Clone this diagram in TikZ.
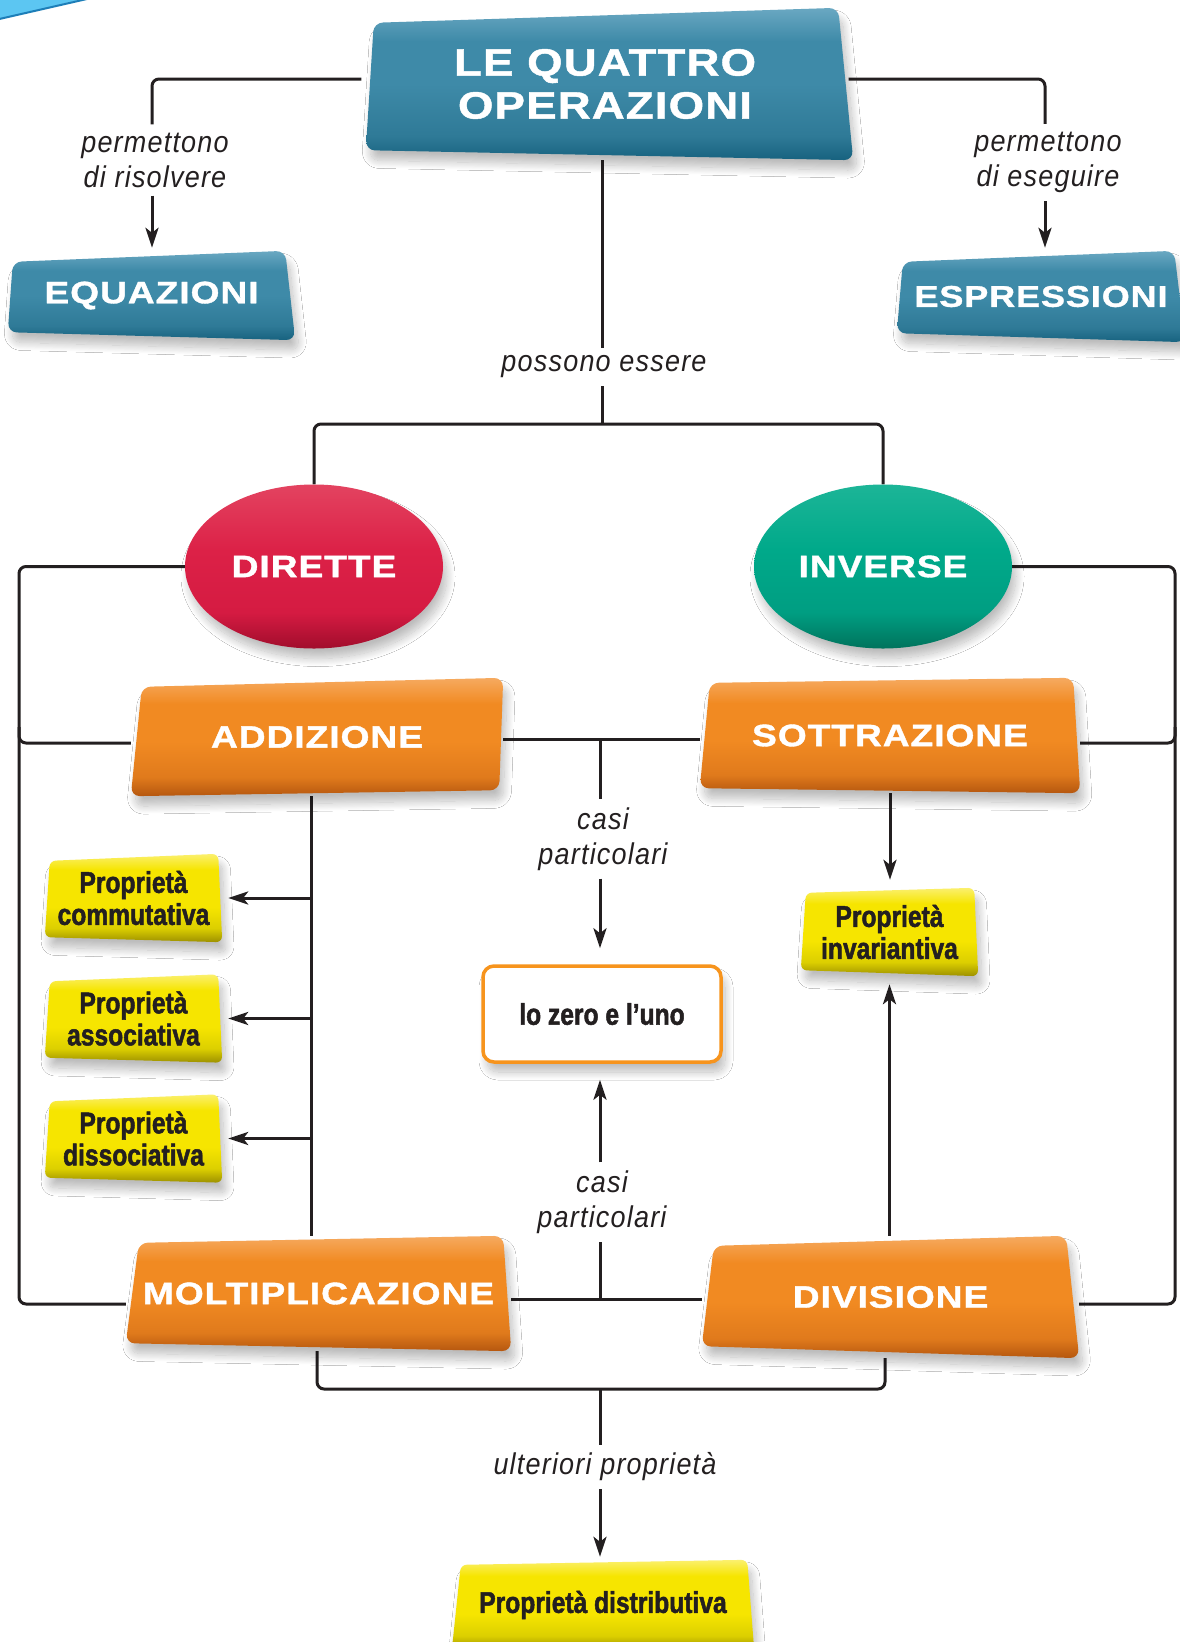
\documentclass[tikz,border=0pt]{standalone}
\usepackage{fontspec}
\setmainfont{Liberation Sans}
\newfontfamily\boxfont{Liberation Sans}[FakeStretch=1.2,LetterSpace=3,FakeBold=1.2]
\newfontfamily\condfont{Liberation Sans}[FakeStretch=0.82,FakeBold=1.6]
\newfontfamily\labfont{Liberation Sans}[FakeStretch=0.9,LetterSpace=4]
\usetikzlibrary{shapes.geometric,arrows.meta,shadows.blur,calc}

% palette
\definecolor{ink}{HTML}{231F20}
\definecolor{orline}{HTML}{F7941D}
\definecolor{skyb}{HTML}{5CC6F2}
\definecolor{skyd}{HTML}{1D7EB8}
\definecolor{tb0}{HTML}{17627F}\definecolor{tb1}{HTML}{2F7A97}
\definecolor{tb2}{HTML}{3E8AA8}\definecolor{tb3}{HTML}{6AA8C2}
\definecolor{or0}{HTML}{B5570F}\definecolor{or1}{HTML}{E07A1C}
\definecolor{or2}{HTML}{F18A22}\definecolor{or3}{HTML}{F6AA60}
\definecolor{yl0}{HTML}{9C9000}\definecolor{yl1}{HTML}{DCCF00}
\definecolor{yl2}{HTML}{F6E500}\definecolor{yl3}{HTML}{FBF06E}
\definecolor{rd0}{HTML}{A10D2C}\definecolor{rd1}{HTML}{D51B42}
\definecolor{rd2}{HTML}{DC2147}\definecolor{rd3}{HTML}{E34360}
\definecolor{gr0}{HTML}{00735C}\definecolor{gr1}{HTML}{009E82}
\definecolor{gr2}{HTML}{00A98A}\definecolor{gr3}{HTML}{1CB597}

% vertical shadings (visible band 25bp..75bp)
\pgfdeclareverticalshading{tealsh}{100bp}{color(0bp)=(tb0); color(25bp)=(tb0); color(33bp)=(tb1); color(50bp)=(tb2); color(64bp)=(tb2); color(75bp)=(tb3); color(100bp)=(tb3)}
\pgfdeclareverticalshading{orsh}{100bp}{color(0bp)=(or0); color(25bp)=(or0); color(33bp)=(or1); color(48bp)=(or2); color(64bp)=(or2); color(75bp)=(or3); color(100bp)=(or3)}
\pgfdeclareverticalshading{ylsh}{100bp}{color(0bp)=(yl0); color(25bp)=(yl0); color(33bp)=(yl1); color(45bp)=(yl2); color(66bp)=(yl2); color(75bp)=(yl3); color(100bp)=(yl3)}
\pgfdeclareverticalshading{rdsh}{100bp}{color(0bp)=(rd0); color(25bp)=(rd0); color(36bp)=(rd1); color(55bp)=(rd2); color(75bp)=(rd3); color(100bp)=(rd3)}
\pgfdeclareverticalshading{grsh}{100bp}{color(0bp)=(gr0); color(25bp)=(gr0); color(36bp)=(gr1); color(55bp)=(gr2); color(75bp)=(gr3); color(100bp)=(gr3)}

\pgfdeclarelayer{wires}
\pgfdeclarelayer{bodies}
\pgfsetlayers{wires,bodies,main}

% a shaded quadrilateral round a node, corners moved by the four offsets
\newcommand\skewbox[6]{%
  \path[#2] ([shift={#3}]#1.north west) -- ([shift={#4}]#1.north east)
    -- ([shift={#5}]#1.south east) -- ([shift={#6}]#1.south west) -- cycle;}

\begin{document}
\begin{tikzpicture}[x=1pt,y=-1pt,
  shad/.style={blur shadow={shadow xshift=4pt,shadow yshift=-10pt,shadow blur radius=8pt,shadow blur steps=16,shadow opacity=26}},
  tealbody/.style={shade,shading=tealsh,rounded corners=9pt,shad},
  orbody/.style={shade,shading=orsh,rounded corners=9pt,shad},
  ylbody/.style={shade,shading=ylsh,rounded corners=6pt,shad},
  boxlbl/.style={inner sep=0pt,align=center,text=white,font=\boxfont\bfseries\fontsize{31}{36}\selectfont},
  ylbl/.style={inner sep=0pt,align=center,text=ink,font=\condfont\bfseries\fontsize{30}{32}\selectfont},
  lab/.style={inner sep=8pt,align=center,text=ink,font=\labfont\itshape\fontsize{30}{35}\selectfont},
  conn/.style={draw=ink,line width=3pt,rounded corners=7pt},
  arr/.style={conn,-{Stealth[length=20pt,width=13pt,inset=5pt]}}]
\useasboundingbox (0,0) rectangle (1179,1642);

% ---------- nodes ----------
\node[boxlbl,minimum width=487pt,minimum height=152pt,
      font=\boxfont\bfseries\fontsize{38}{43}\selectfont] (tit) at (605,84) {LE QUATTRO\\OPERAZIONI};
\node[boxlbl,minimum width=287pt,minimum height=89pt] (eq) at (151.5,295.5) {EQUAZIONI};
\node[boxlbl,minimum width=288pt,minimum height=91pt,
      font=\boxfont\bfseries\fontsize{30}{36}\selectfont] (esp) at (1041,296.5) {ESPRESSIONI};
\node[lab] (lres) at (155,160) {permettono\\di risolvere};
\node[lab] (lese) at (1048,162.5) {permettono\\di eseguire};
\node[lab] (poss) at (604,367) {possono essere};

\node[boxlbl,ellipse,minimum width=258pt,minimum height=164pt,shade,shading=rdsh,shad] (dir) at (314,566.5) {DIRETTE};
\node[boxlbl,ellipse,minimum width=258pt,minimum height=164pt,shade,shading=grsh,shad] (inv) at (883,566.5) {INVERSE};

\node[boxlbl,minimum width=372pt,minimum height=118pt] (add) at (317,737) {ADDIZIONE};
\node[boxlbl,minimum width=380pt,minimum height=115pt] (sot) at (890,735.5) {SOTTRAZIONE};
\node[boxlbl,minimum width=385pt,minimum height=115pt] (mol) at (318.5,1293.5) {MOLTIPLICAZIONE};
\node[boxlbl,minimum width=377pt,minimum height=122pt] (div) at (890.5,1297) {DIVISIONE};

\node[ylbl,minimum width=177pt,minimum height=88pt] (com) at (133.5,898) {Proprietà\\commutativa};
\node[ylbl,minimum width=177pt,minimum height=88pt] (ass) at (133.5,1018.5) {Proprietà\\associativa};
\node[ylbl,minimum width=177pt,minimum height=88pt] (dsc) at (133.5,1138.5) {Proprietà\\dissociativa};
\node[ylbl,minimum width=177pt,minimum height=88pt] (inva) at (889.5,932) {Proprietà\\invariantiva};
\node[ylbl,minimum width=302pt,minimum height=90pt] (dstr) at (603,1605) {Proprietà distributiva};

\node[ylbl,draw=orline,line width=3.5pt,fill=white,rounded corners=11pt,
      minimum width=238pt,minimum height=96pt,shad] (zero) at (602,1014) {lo zero e l’uno};

\node[lab] (casi1) at (603,839) {casi\\particolari};
\node[lab] (casi2) at (602,1202) {casi\\particolari};
\node[lab] (ult) at (605,1467) {ulteriori proprietà};

% ---------- box bodies ----------
\begin{pgfonlayer}{bodies}
\skewbox{tit}{tealbody}{(12.5,15)}{(-10.5,0)}{(4.5,0)}{(4.5,-10)}
\skewbox{eq}{tealbody}{(5,11)}{(-10,0)}{(0,0)}{(0,-8)}
\skewbox{esp}{tealbody}{(6,11)}{(-11,0)}{(0,0)}{(0,-9)}
\skewbox{add}{orbody}{(11,9)}{(0,0)}{(-4,-6)}{(0,0)}
\skewbox{sot}{orbody}{(10,5)}{(-7,0)}{(0,0)}{(0,-5)}
\skewbox{mol}{orbody}{(13,7)}{(-8,0)}{(0,0)}{(0,-8)}
\skewbox{div}{orbody}{(12,10)}{(-13,0)}{(0,0)}{(0,-12)}
\skewbox{com}{ylbody}{(5,7)}{(-4,0)}{(0,0)}{(0,-5)}
\skewbox{ass}{ylbody}{(5,7)}{(-4,0)}{(0,0)}{(0,-5)}
\skewbox{dsc}{ylbody}{(5,7)}{(-4,0)}{(0,0)}{(0,-5)}
\skewbox{inva}{ylbody}{(5,5)}{(-4,0)}{(0,0)}{(0,-6)}
\skewbox{dstr}{ylbody}{(9,5)}{(-7,0)}{(0,0)}{(0,0)}
\end{pgfonlayer}

% ---------- connectors ----------
\begin{pgfonlayer}{wires}
\fill[white] (0,0) rectangle (1179,1642);
% corner of a sky-blue tab
\fill[skyb] (-5,-5) -- (100,-5) -- (-5,20) -- cycle;
\draw[skyd,line width=2pt] (-5,20) -- (100,-4);

% title to equations / expressions
\coordinate (a1) at ([shift={(0,-5)}]tit.west);
\coordinate (a2) at ([shift={(-3,0)}]lres.north);
\coordinate (a3) at ([shift={(-3,0)}]lres.south);
\draw[conn] (a1) -| (a2);
\draw[arr,shorten >=3pt] (a3) -- (a3 |- eq.north);
\coordinate (b1) at ([shift={(0,-5)}]tit.east);
\coordinate (b2) at ([shift={(-3,0)}]lese.north);
\coordinate (b3) at ([shift={(-3,0)}]lese.south);
\draw[conn] (b1) -| (b2);
\draw[arr,shorten >=3pt] (b3) -- (b3 |- esp.north);

% title to direct / inverse
\coordinate (c1) at ([shift={(-2,0)}]poss.north);
\coordinate (c2) at ([shift={(-2,0)}]poss.south);
\coordinate (jn) at (602,424);
\draw[conn] (c1 |- tit.south) -- (c1);
\draw[conn] (c2) -- (jn);
\draw[conn] (dir.north) |- (jn) -| (inv.north);

% left bracket
\coordinate (lft) at (19,0);
\coordinate (mw) at ([shift={(0,10.5)}]mol.west);
\coordinate (aw) at ([shift={(0,6)}]add.west);
\coordinate (awl) at (lft |- aw);
\draw[conn] (dir.west) -| (lft |- mw) -- (mw);
\draw[conn] ([shift={(0,-16)}]awl) |- (aw);

% right bracket
\coordinate (rgt) at (1175,0);
\coordinate (dve) at ([shift={(0,7)}]div.east);
\coordinate (se) at ([shift={(0,7.5)}]sot.east);
\coordinate (ser) at (rgt |- se);
\draw[conn] (inv.east) -| (rgt |- dve) -- (dve);
\draw[conn] ([shift={(0,-16)}]ser) |- (se);

% special cases: zero and one
\draw[conn] ([shift={(0,2)}]add.east) -- ([shift={(0,3.5)}]sot.west);
\coordinate (mt) at (600,739);
\draw[conn] (mt) -- (mt |- casi1.north);
\draw[arr,shorten >=16pt] (mt |- casi1.south) -- (mt |- zero.north);
\draw[conn] ([shift={(0,5.5)}]mol.east) -- ([shift={(0,2)}]div.west);
\coordinate (mb) at (600,1299);
\draw[conn] (mb) -- (mb |- casi2.south);
\draw[arr,shorten >=16pt] (mb |- casi2.north) -- (mb |- zero.south);

% properties of addition and multiplication
\coordinate (vt) at ([shift={(-6,0)}]add.south);
\coordinate (vb) at ([shift={(-7.5,0)}]mol.north);
\draw[conn] (vt) -- (vb);
\foreach \b in {com,ass,dsc}
  \draw[arr,shorten >=6pt] (vt |- \b.east) -- (\b.east);

% invariant property
\draw[arr,shorten >=8pt] (sot.south) -- (sot.south |- inva.north);
\draw[arr,shorten >=8pt] (inva.south |- div.north) -- (inva.south);

% distributive property
\coordinate (bj) at (600,1389);
\draw[conn] ([shift={(-1.5,0)}]mol.south) |- (bj) -| ([shift={(-5.5,0)}]div.south);
\draw[conn] (bj) -- (bj |- ult.north);
\draw[arr,shorten >=3pt] (bj |- ult.south) -- (bj |- dstr.north);
\end{pgfonlayer}
\end{tikzpicture}
\end{document}
